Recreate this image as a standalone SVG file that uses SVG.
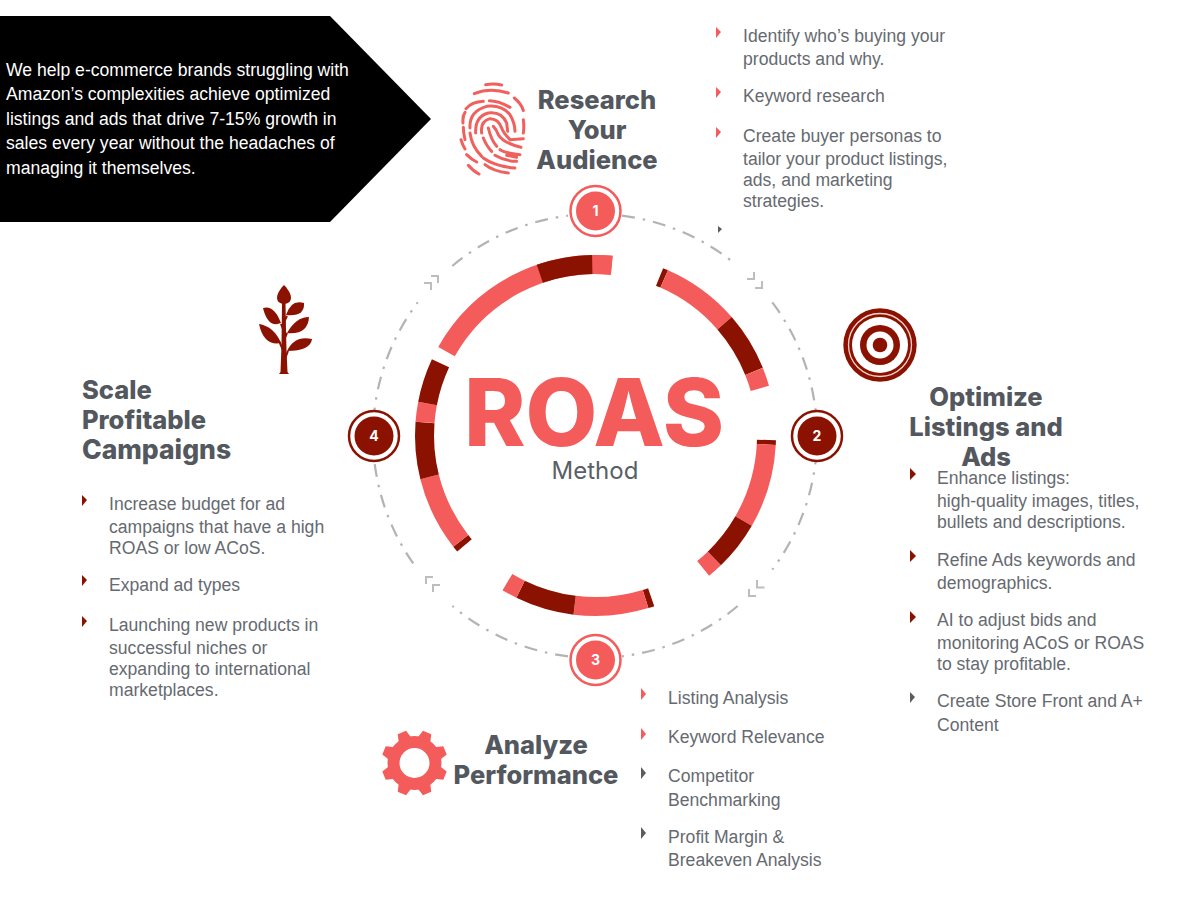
<svg xmlns="http://www.w3.org/2000/svg" width="1200" height="899" viewBox="0 0 1200 899">
<style>
.b{font:17.6px "Liberation Sans",Arial,sans-serif;fill:#666a70}
.w{font:17.6px "Liberation Sans",Arial,sans-serif;fill:#fff}
.h{font:800 25.5px Inter,"Liberation Sans",sans-serif;fill:#53575e}
.m{text-anchor:middle}
.n{font:700 14px Inter,"Liberation Sans",sans-serif;fill:#fff;text-anchor:middle}
.c{fill:#f45b5b}.d{fill:#8b1200}.g{fill:#5a5c62}
.arc{fill:none;stroke:#b3b3b3;stroke-width:2.2;stroke-dasharray:13 8 2.5 8}
.chev{fill:none;stroke:#bdbdbd;stroke-width:2}
.seg{fill:none;stroke-width:19}
.sc{stroke:#f45b5b}.sd{stroke:#8b1200}
.fp{fill:none;stroke:#f0605c;stroke-width:9;stroke-linecap:round}
</style>
<defs><polygon id="tooth" points="-7,-24 -4.500,-33 4.500,-33 7,-24"/></defs>
<rect width="1200" height="899" fill="#fff"/>
<g id="banner">
<polygon points="0,16 330,16 431,119 330,222 0,222" fill="#000"/>
<text class="w" x="6" y="76">We help e-commerce brands struggling with</text>
<text class="w" x="6" y="100">Amazon’s complexities achieve optimized</text>
<text class="w" x="6" y="125">listings and ads that drive 7-15% growth in</text>
<text class="w" x="6" y="149">sales every year without the headaches of</text>
<text class="w" x="6" y="174">managing it themselves.</text>
</g>
<g id="connectors">
<path class="arc" d="M622,215.7A222,222 0 0 1 734.7,263.5"/>
<path class="arc" d="M772.3,302.4A222,222 0 0 1 816.5,420.5"/>
<path class="arc" d="M816.5,451.5A222,222 0 0 1 772.3,569.6"/>
<path class="arc" d="M737.7,606A222,222 0 0 1 622,656.3"/>
<path class="arc" d="M568,656.3A222,222 0 0 1 452.3,606"/>
<path class="arc" d="M413.2,563.4A222,222 0 0 1 373.5,451.5"/>
<path class="arc" d="M373.5,420.5A222,222 0 0 1 417.7,302.4"/>
<path class="arc" d="M452.3,266A222,222 0 0 1 568,215.7"/>
<path class="chev" d="M747,279H754V272M755,288H762V281"/>
<path class="chev" d="M757,580V587.5H764.5M749,589V596H756"/>
<path class="chev" d="M426,584V577H433M433,592V585H440"/>
<path class="chev" d="M431,276H438V283M424,283H431V290"/>
</g>
<g id="ring" transform="translate(595.5,435.5)">
<circle class="seg sc" r="171" pathLength="360" stroke-dasharray="66 360" transform="rotate(-150.6)"/>
<circle class="seg sd" r="171" pathLength="360" stroke-dasharray="18 360" transform="rotate(-109)"/>
<circle class="seg sc" r="171" pathLength="360" stroke-dasharray="6.5 360" transform="rotate(-91)"/>
<circle class="seg sd" r="171" pathLength="360" stroke-dasharray="1.7 360" transform="rotate(-68)"/>
<circle class="seg sc" r="171" pathLength="360" stroke-dasharray="25.3 360" transform="rotate(-66.3)"/>
<circle class="seg sd" r="171" pathLength="360" stroke-dasharray="19 360" transform="rotate(-41)"/>
<circle class="seg sc" r="171" pathLength="360" stroke-dasharray="6 360" transform="rotate(-22)"/>
<circle class="seg sd" r="171" pathLength="360" stroke-dasharray="1.5 360" transform="rotate(1.5)"/>
<circle class="seg sc" r="171" pathLength="360" stroke-dasharray="27 360" transform="rotate(3)"/>
<circle class="seg sd" r="171" pathLength="360" stroke-dasharray="16 360" transform="rotate(30)"/>
<circle class="seg sc" r="171" pathLength="360" stroke-dasharray="5 360" transform="rotate(46)"/>
<circle class="seg sd" r="171" pathLength="360" stroke-dasharray="2 360" transform="rotate(71)"/>
<circle class="seg sc" r="171" pathLength="360" stroke-dasharray="24 360" transform="rotate(73)"/>
<circle class="seg sd" r="171" pathLength="360" stroke-dasharray="19 360" transform="rotate(97)"/>
<circle class="seg sc" r="171" pathLength="360" stroke-dasharray="5 360" transform="rotate(116)"/>
<circle class="seg sd" r="171" pathLength="360" stroke-dasharray="2 360" transform="rotate(140)"/>
<circle class="seg sc" r="171" pathLength="360" stroke-dasharray="24 360" transform="rotate(142)"/>
<circle class="seg sd" r="171" pathLength="360" stroke-dasharray="18.4 360" transform="rotate(166)"/>
<circle class="seg sc" r="171" pathLength="360" stroke-dasharray="6.4 360" transform="rotate(184.4)"/>
<circle class="seg sd" r="171" pathLength="360" stroke-dasharray="14.2 360" transform="rotate(190.8)"/>
</g>
<g id="center">
<text x="594" y="446" text-anchor="middle" style="font:800 93px Inter,'Liberation Sans',sans-serif;fill:#f45b5b">ROAS</text>
<text x="595" y="479" text-anchor="middle" style="font:400 24px Inter,'Liberation Sans',sans-serif;fill:#5a5f66">Method</text>
</g>
<g id="node1">
<circle cx="595.500" cy="211" r="25" fill="#fff" stroke="#f45b5b" stroke-width="2.500"/>
<circle cx="595.500" cy="211" r="19.500" class="c"/>
<text class="n" x="595.500" y="216">1</text>
<g transform="translate(455,78) scale(.3333)">
<path class="fp" d="M92,20Q117,16 140,21M58,47Q105,28 160,45M178,60Q200,78 205,98M205,125Q208,145 205,165M33,92Q50,72 85,70M103,68Q130,68 165,88M24,135Q22,115 30,103M25,148Q25,165 30,185M18,185Q22,200 30,213M35,230Q50,245 65,252M40,262Q55,280 72,288M90,260Q115,280 160,285M45,150Q42,100 95,85Q140,80 165,110Q180,135 180,160M62,165Q60,115 100,105Q140,100 155,135L158,160M80,165Q75,130 105,122Q130,122 140,150Q145,165 165,185L205,182M115,145Q125,155 130,170Q145,195 198,208M100,150Q108,185 125,205M135,215Q150,225 195,230M85,180Q95,205 110,220M120,232Q150,250 185,250M45,165Q50,205 80,235M85,240Q120,265 180,270M155,232L185,238"/>
</g>
<text class="h m" x="597" y="109">Research</text>
<text class="h m" x="597" y="139">Your</text>
<text class="h m" x="597" y="169">Audience</text>
<polygon class="c" points="716,27 721,32 716,38"/>
<text class="b" x="743" y="42">Identify who’s buying your</text>
<text class="b" x="743" y="65">products and why.</text>
<polygon class="c" points="716,87 721,92 716,98"/>
<text class="b" x="743" y="102">Keyword research</text>
<polygon class="c" points="716,127 721,132 716,138"/>
<text class="b" x="743" y="142">Create buyer personas to</text>
<text class="b" x="743" y="165">tailor your product listings,</text>
<text class="b" x="743" y="186">ads, and marketing</text>
<text class="b" x="743" y="207">strategies.</text>
<polygon class="g" points="718,226 722,229 718,233"/>
</g>
<g id="node2">
<circle cx="817" cy="436" r="25" fill="#fff" stroke="#8b1200" stroke-width="2.500"/>
<circle cx="817" cy="436" r="19.500" class="d"/>
<text class="n" x="817" y="441">2</text>
<circle cx="880" cy="345" r="36.700" class="d"/>
<circle cx="880" cy="345" r="31.500" fill="none" stroke="#f5d5cf" stroke-width="1.300"/>
<circle cx="880" cy="345" r="28" fill="#fff"/>
<circle cx="880" cy="345" r="20" class="d"/>
<circle cx="880" cy="345" r="13.500" fill="#fff"/>
<circle cx="880" cy="345" r="7.300" class="d"/>
<text class="h m" x="986" y="406">Optimize</text>
<text class="h m" x="986" y="436">Listings and</text>
<text class="h m" x="986" y="466">Ads</text>
<polygon class="d" points="910,468 916,474 910,480"/>
<text class="b" x="937" y="484">Enhance listings:</text>
<text class="b" x="937" y="507">high-quality images, titles,</text>
<text class="b" x="937" y="528">bullets and descriptions.</text>
<polygon class="d" points="910,550 916,556 910,562"/>
<text class="b" x="937" y="566">Refine Ads keywords and</text>
<text class="b" x="937" y="589">demographics.</text>
<polygon class="d" points="910,611 916,617 910,623"/>
<text class="b" x="937" y="626">AI to adjust bids and</text>
<text class="b" x="937" y="649">monitoring ACoS or ROAS</text>
<text class="b" x="937" y="670">to stay profitable.</text>
<polygon class="g" points="910,692 915,697 910,703"/>
<text class="b" x="937" y="707">Create Store Front and A+</text>
<text class="b" x="937" y="731">Content</text>
</g>
<g id="node3">
<circle cx="595.500" cy="660" r="25" fill="#fff" stroke="#f45b5b" stroke-width="2.500"/>
<circle cx="595.500" cy="660" r="19.500" class="c"/>
<text class="n" x="595.500" y="665">3</text>
<g class="c" transform="translate(414.500,763)">
<circle r="21" fill="none" stroke="#f45b5b" stroke-width="12"/>
<use href="#tooth" transform="rotate(22.500)"/>
<use href="#tooth" transform="rotate(67.500)"/>
<use href="#tooth" transform="rotate(112.500)"/>
<use href="#tooth" transform="rotate(157.500)"/>
<use href="#tooth" transform="rotate(202.500)"/>
<use href="#tooth" transform="rotate(247.500)"/>
<use href="#tooth" transform="rotate(292.500)"/>
<use href="#tooth" transform="rotate(337.500)"/>
</g>
<text class="h m" x="536" y="754">Analyze</text>
<text class="h m" x="536" y="784">Performance</text>
<polygon class="c" points="641,688 646,694 641,700"/>
<text class="b" x="668" y="704">Listing Analysis</text>
<polygon class="c" points="641,728 646,734 641,740"/>
<text class="b" x="668" y="743">Keyword Relevance</text>
<polygon class="g" points="641,767 646,773 641,779"/>
<text class="b" x="668" y="782">Competitor</text>
<text class="b" x="668" y="806">Benchmarking</text>
<polygon class="g" points="641,827 646,833 641,839"/>
<text class="b" x="668" y="843">Profit Margin &amp;</text>
<text class="b" x="668" y="866">Breakeven Analysis</text>
</g>
<g id="node4">
<circle cx="374" cy="436" r="25" fill="#fff" stroke="#8b1200" stroke-width="2.500"/>
<circle cx="374" cy="436" r="19.500" class="d"/>
<text class="n" x="374" y="441">4</text>
<path class="d" d="M279,374L280.500,372L281.500,345L282,303H285.500L286,330L286.500,350L287.500,372L289,374Z"/>
<path class="d" d="M284,285C290,291 293,298 289.500,302Q284,306 278.500,302C275,298 278,291 284,285Z"/>
<path class="d" d="M286,315Q291,299 304,303Q305,317 286,315Z"/>
<path class="d" d="M281,323Q274,304.500 263,308Q268,328.500 281,323Z"/>
<path class="d" d="M287,333Q296,317 309,317Q308,335 287,333Z"/>
<path class="d" d="M281,343Q274,326.500 259,324Q264,346.500 281,343Z"/>
<path class="d" d="M287,351Q294.500,335 312,339Q310.500,351 287,351Z"/>
<path d="M284,322L287,316M283,329L281,324M284,340L287,333M283,350L279,341M285,359L288,351" stroke="#8b1200" stroke-width="2" fill="none"/>
<text class="h" x="82" y="399">Scale</text>
<text class="h" x="82" y="429">Profitable</text>
<text class="h" x="82" y="459" style="font-size:26.500px">Campaigns</text>
<polygon class="d" points="82,495 87,500 82,506"/>
<text class="b" x="109" y="510">Increase budget for ad</text>
<text class="b" x="109" y="533">campaigns that have a high</text>
<text class="b" x="109" y="554">ROAS or low ACoS.</text>
<polygon class="d" points="82,575 87,580 82,586"/>
<text class="b" x="109" y="591">Expand ad types</text>
<polygon class="d" points="82,616 87,621 82,627"/>
<text class="b" x="109" y="631">Launching new products in</text>
<text class="b" x="109" y="654">successful niches or</text>
<text class="b" x="109" y="675">expanding to international</text>
<text class="b" x="109" y="696">marketplaces.</text>
</g>
</svg>
